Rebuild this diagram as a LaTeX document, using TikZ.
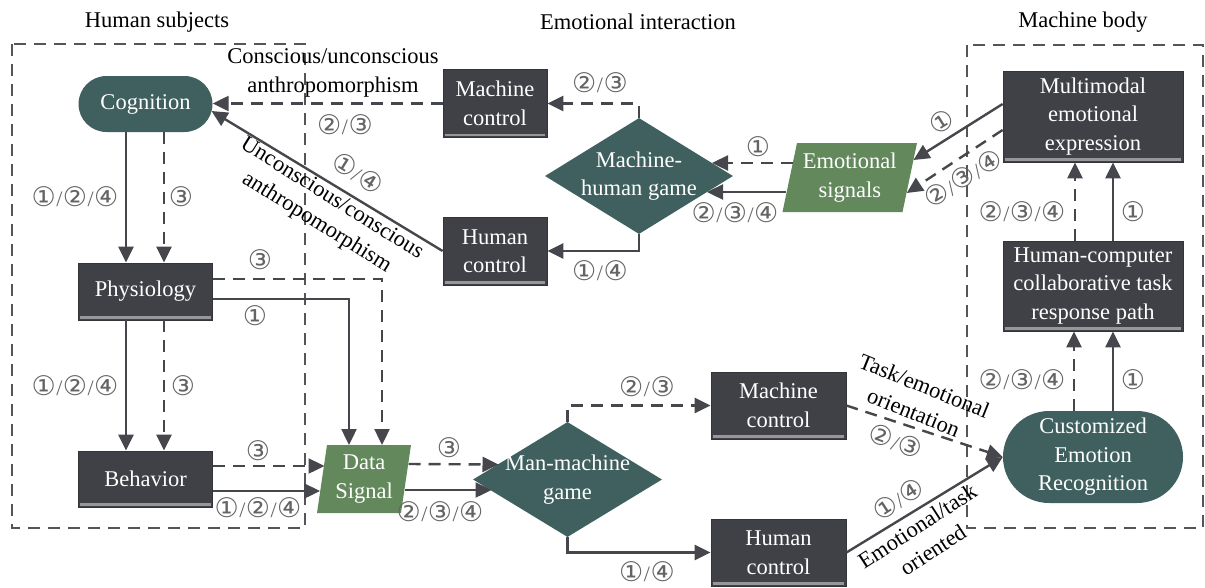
\documentclass[tikz,border=0pt]{standalone}
\usepackage{fontspec}
\setmainfont{Liberation Serif}
\newfontfamily\circfont{DejaVu Sans}
\usetikzlibrary{arrows.meta,shapes.geometric,shapes.misc,calc}
\definecolor{boxdark}{RGB}{64,65,70}
\definecolor{tealbox}{RGB}{63,96,95}
\definecolor{greenbox}{RGB}{98,136,92}
\definecolor{linec}{RGB}{70,71,76}
\definecolor{numc}{RGB}{100,100,100}
\definecolor{bevelc}{RGB}{150,150,155}
\definecolor{framec}{RGB}{85,85,88}
\newcommand\sls{{\rmfamily\fontsize{22}{22}\selectfont\kern0.5pt/\kern0.5pt}}
\tikzset{
 txt/.style={font=\fontsize{22.5}{28.5}\selectfont},
 darkbox/.style={rectangle, fill=boxdark, draw=boxdark!80!black, line width=0.8pt, text=white, align=center, inner sep=0pt, txt},
 tealround/.style={rounded rectangle, fill=tealbox, inner sep=0pt},
 tealdiamond/.style={diamond, fill=tealbox, inner sep=0pt},
 lbl/.style={txt, align=center, inner sep=0pt},
 wlbl/.style={lbl, text=white},
 conn/.style={draw=linec, line width=2.4pt, -{Triangle[length=16pt,width=15pt]}},
 dconn/.style={conn, dash pattern=on 12pt off 8pt},
 frame/.style={draw=framec, line width=2pt, dash pattern=on 12pt off 8pt},
 num/.style={font=\circfont\fontsize{27}{30}\selectfont, text=numc, inner sep=0pt},
}
\newcommand\mybevel[1]{\draw[bevelc, line width=2.5pt] ($(#1.south west)+(2,-3)$) -- ($(#1.south east)+(-2,-3)$);}
\begin{document}
\begin{tikzpicture}[x=1pt,y=-1pt]
\useasboundingbox (0,0) rectangle (1205,587);
% titles
\node[lbl] (t1) at (157,22) {Human subjects};
\node[lbl] (t2) at (638,22) {Emotional interaction};
\node[lbl] (t3) at (1083,22) {Machine body};
% frames
\draw[frame] (12,44) rectangle (305,528);
\draw[frame] (967,45) rectangle (1203,528);
% left column
\node[tealround, minimum width=134, minimum height=56] (cog) at (145.5,104) {};
\node[wlbl] (cogt) at (cog) {Cognition};
\node[darkbox, minimum width=134, minimum height=57] (phys) at (145.5,291.5) {Physiology};
\node[darkbox, minimum width=134, minimum height=56] (beh) at (145.5,479) {Behavior};
\mybevel{phys}\mybevel{beh}
% top middle
\node[darkbox, minimum width=104, minimum height=68] (mct) at (495,103.5) {Machine\\control};
\node[darkbox, minimum width=104, minimum height=68] (hct) at (495,251) {Human\\control};
\mybevel{mct}\mybevel{hct}
\node[tealdiamond, minimum width=188, minimum height=116] (mh) at (639,176) {};
\node[wlbl] (mht) at (mh) {Machine-\\human game};
\coordinate (esc) at (849.75,177.5);
\fill[greenbox] ($(esc)+(-67.25,34.5)$) -- ($(esc)+(-52.75,-34.5)$) -- ($(esc)+(67.25,-34.5)$) -- ($(esc)+(52.75,34.5)$) -- cycle;
\node[wlbl] (es) at (esc) {Emotional\\signals};
% data signal
\coordinate (dsc) at (364,479);
\fill[greenbox] ($(dsc)+(-47,34)$) -- ($(dsc)+(-37,-34)$) -- ($(dsc)+(47,-34)$) -- ($(dsc)+(37,34)$) -- cycle;
\node[wlbl] (ds) at (dsc) {Data\\Signal};
% right column
\node[darkbox, minimum width=180, minimum height=91] (mme) at (1093,116.5) {Multimodal\\emotional\\expression};
\node[darkbox, minimum width=180, minimum height=90] (hc) at (1093,286) {Human-computer\\collaborative task\\response path};
\mybevel{mme}\mybevel{hc}
\node[tealround, minimum width=180, minimum height=92] (cer) at (1093,457) {};
\node[wlbl] (cert) at (cer) {Customized\\Emotion\\Recognition};
% bottom middle
\node[tealdiamond, minimum width=189, minimum height=115] (mm) at (567.5,479.5) {};
\node[wlbl] (mmt) at (mm) {Man-machine\\game};
\node[darkbox, minimum width=135, minimum height=67] (mcb) at (778.5,405.5) {Machine\\control};
\node[darkbox, minimum width=135, minimum height=67] (hcb) at (778.5,552.5) {Human\\control};
\mybevel{mcb}\mybevel{hcb}
% connectors left
\draw[conn] ($(cog.south)+(-19.5,0)$) -- ($(phys.north)+(-19.5,0)$);
\draw[dconn] ($(cog.south)+(18.5,0)$) -- ($(phys.north)+(18.5,0)$);
\draw[conn] ($(phys.south)+(-19.5,0)$) -- ($(beh.north)+(-19.5,0)$);
\draw[dconn] ($(phys.south)+(18.5,0)$) -- ($(beh.north)+(18.5,0)$);
\draw[dconn] ($(phys.east)+(0,-12.5)$) -| ($(dsc)+(18,-34)$);
\draw[conn] ($(phys.east)+(0,7.5)$) -| ($(dsc)+(-15,-34)$);
\draw[dconn] ($(beh.east)+(0,-13)$) -- ($(dsc)+(-39.5,-13)$);
\draw[conn] ($(beh.east)+(0,12)$) -- ($(dsc)+(-44,12)$);
\draw[dconn] ($(dsc)+(44.5,-15)$) -- ($(mm.center)+(-69,-15)$);
\draw[conn] ($(dsc)+(40.5,11)$) -- ($(mm.center)+(-76,10.5)$);
% bottom middle
\draw[dconn] (mm.north) |- (mcb.west);
\draw[conn] (mm.south) |- (hcb.west);
\draw[dconn] (mcb.east) -- (cer.west);
\draw[conn] (hcb.east) -- (cer.west);
% right column
\draw[dconn] ($(cer.north)+(-19,0)$) -- ($(hc.south)+(-19,0)$);
\draw[conn] ($(cer.north)+(20,0)$) -- ($(hc.south)+(20,0)$);
\draw[dconn] ($(hc.north)+(-18,0)$) -- ($(mme.south)+(-18,0)$);
\draw[conn] ($(hc.north)+(20,0)$) -- ($(mme.south)+(20,0)$);
\draw[conn] ($(mme.west)+(0,-12.5)$) -- ($(es.center)+(63.75,-17.5)$);
\draw[dconn] ($(mme.west)+(0,13.5)$) -- ($(es.center)+(57,15.5)$);
% top middle
\draw[dconn] ($(es.center)+(-57,-14.5)$) -- ($(mh.center)+(73,-13)$);
\draw[conn] ($(es.center)+(-63.5,14.5)$) -- ($(mh.center)+(68,16)$);
\draw[dconn] (mh.north) |- (mct.east);
\draw[conn] (mh.south) |- (hct.east);
\draw[dconn] (mct.west) -- (cog.east |- mct.west);
\draw[conn] (hct.west) -- ($(cog.center)+(66,7)$);
% number labels
\node[num] (n1) at (75,197) {①\sls②\sls④};
\node[num] (n2) at (181,197) {③};
\node[num] (n3) at (75,386) {①\sls②\sls④};
\node[num] (n4) at (183,386) {③};
\node[num] (n5) at (260,260) {③};
\node[num] (n6) at (255,316) {①};
\node[num] (n7) at (258,451) {③};
\node[num] (n8) at (258,508) {①\sls②\sls④};
\node[num] (n9) at (449,448) {③};
\node[num] (n10) at (440,512) {②\sls③\sls④};
\node[num] (n11) at (647,387) {②\sls③};
\node[num] (n12) at (647,572) {①\sls④};
\node[num] (n13) at (600,83) {②\sls③};
\node[num] (n14) at (600,271) {①\sls④};
\node[num] (n15) at (758,147) {①};
\node[num] (n16) at (735,213) {②\sls③\sls④};
\node[num] (n17) at (345,125) {②\sls③};
\node[num, rotate=-32] (n18) at (358,173) {①\sls④};
\node[num, rotate=-20] (n19) at (896,441) {②\sls③};
\node[num, rotate=33] (n20) at (898,499) {①\sls④};
\node[num, rotate=32] (n21) at (942,122) {①};
\node[num, rotate=32] (n22) at (963,178) {②\sls③\sls④};
\node[num] (n23) at (1022,212) {②\sls③\sls④};
\node[num] (n24) at (1133,212) {①};
\node[num] (n25) at (1022,380) {②\sls③\sls④};
\node[num] (n26) at (1133,380) {①};
% text labels
\node[lbl] (l1) at (333,73) {Conscious/unconscious\\anthropomorphism};
\node[lbl, rotate=-32] (l2) at (324,211) {Unconscious/conscious\\anthropomorphism};
\node[lbl, rotate=-22] (l3) at (919,399) {Task/emotional\\orientation};
\node[lbl, rotate=33] (l4) at (925,538) {Emotional/task\\oriented};
\end{tikzpicture}
\end{document}
